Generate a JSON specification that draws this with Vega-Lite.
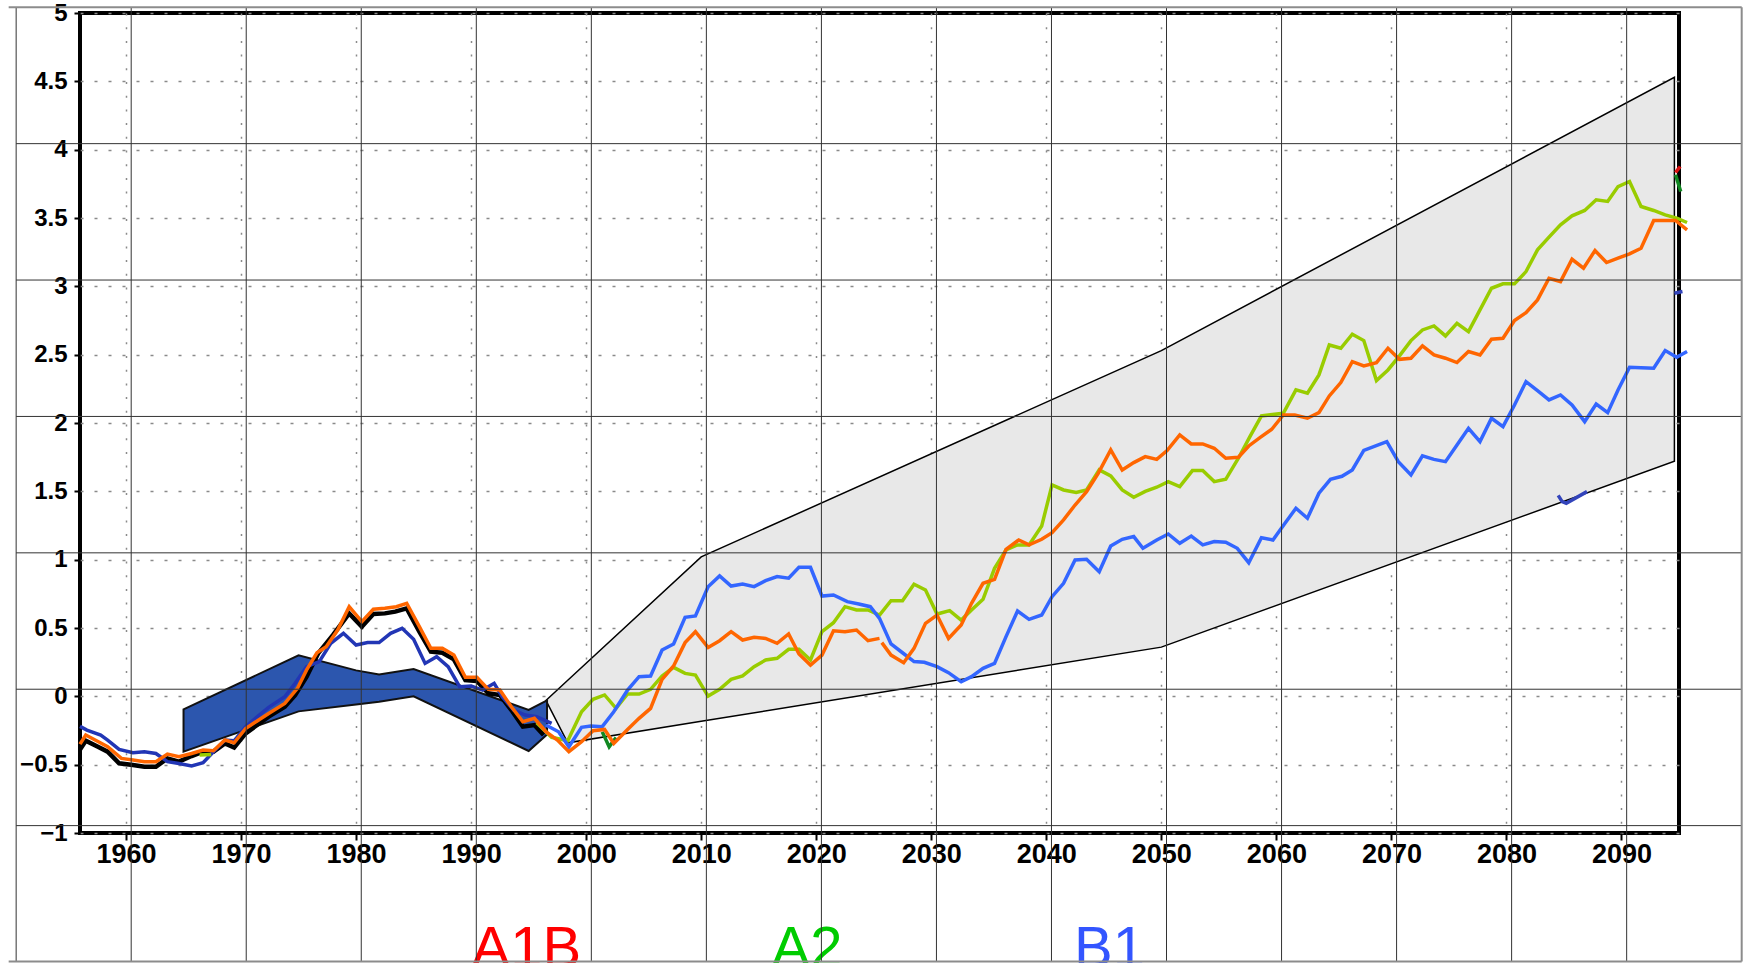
{
  "$schema": "https://vega.github.io/schema/vega-lite/v6.json",
  "width": 1599,
  "height": 820,
  "autosize": {"type": "none"},
  "padding": {"left": 80, "top": 13, "right": 68, "bottom": 130},
  "background": "white",
  "config": {
    "view": {"stroke": "black", "strokeWidth": 4},
    "axis": {"labelFont": "Liberation Sans", "labelFontWeight": "bold", "labelColor": "black"}
  },
  "resolve": {"scale": {"color": "independent"}},
  "datasets": {
    "gray": [
      {"x": 1996.5, "hi": -0.03, "lo": -0.03},
      {"x": 1998.4, "hi": 0.118, "lo": -0.34},
      {"x": 2010.0, "hi": 1.02, "lo": -0.183},
      {"x": 2050.0, "hi": 2.53, "lo": 0.36},
      {"x": 2094.6, "hi": 4.53, "lo": 1.72}
    ],
    "blue": [
      {"x": 1965.0, "hi": -0.095, "lo": -0.405},
      {"x": 1975.0, "hi": 0.30, "lo": -0.11},
      {"x": 1980.0, "hi": 0.19, "lo": -0.06},
      {"x": 1982.0, "hi": 0.16, "lo": -0.04},
      {"x": 1985.0, "hi": 0.20, "lo": 0.0},
      {"x": 1995.0, "hi": -0.10, "lo": -0.40},
      {"x": 1996.6, "hi": -0.03, "lo": -0.28}
    ],
    "obs": [
      {"x": 1956.0, "y": -0.39}, {"x": 1956.5, "y": -0.325}, {"x": 1957.6, "y": -0.37}, {"x": 1958.4, "y": -0.405},
      {"x": 1959.4, "y": -0.49}, {"x": 1960.6, "y": -0.503}, {"x": 1961.6, "y": -0.515}, {"x": 1962.6, "y": -0.515},
      {"x": 1963.6, "y": -0.454}, {"x": 1964.6, "y": -0.478}, {"x": 1965.7, "y": -0.437}, {"x": 1966.7, "y": -0.405},
      {"x": 1967.6, "y": -0.405}, {"x": 1968.6, "y": -0.344}, {"x": 1969.4, "y": -0.374}, {"x": 1970.4, "y": -0.271},
      {"x": 1971.4, "y": -0.21}, {"x": 1972.4, "y": -0.149}, {"x": 1973.8, "y": -0.076}, {"x": 1974.7, "y": 0.009},
      {"x": 1975.7, "y": 0.144}, {"x": 1976.7, "y": 0.314}, {"x": 1978.0, "y": 0.449}, {"x": 1979.4, "y": 0.607},
      {"x": 1980.5, "y": 0.51}, {"x": 1981.5, "y": 0.602}, {"x": 1982.5, "y": 0.607}, {"x": 1983.4, "y": 0.62},
      {"x": 1984.4, "y": 0.644}, {"x": 1985.5, "y": 0.473}, {"x": 1986.5, "y": 0.327}, {"x": 1987.5, "y": 0.319},
      {"x": 1988.5, "y": 0.271}, {"x": 1989.5, "y": 0.119}, {"x": 1990.5, "y": 0.112}, {"x": 1991.5, "y": 0.022},
      {"x": 1992.5, "y": 0.009}, {"x": 1993.5, "y": -0.1}, {"x": 1994.5, "y": -0.222}, {"x": 1995.5, "y": -0.21},
      {"x": 1996.3, "y": -0.283}
    ],
    "hist": [
      {"x": 1956.0, "y": -0.22}, {"x": 1956.6, "y": -0.247}, {"x": 1957.8, "y": -0.283}, {"x": 1958.4, "y": -0.32},
      {"x": 1959.4, "y": -0.388}, {"x": 1960.6, "y": -0.413}, {"x": 1961.6, "y": -0.405}, {"x": 1962.6, "y": -0.418},
      {"x": 1963.6, "y": -0.478}, {"x": 1964.6, "y": -0.491}, {"x": 1965.7, "y": -0.51}, {"x": 1966.7, "y": -0.486},
      {"x": 1967.6, "y": -0.405}, {"x": 1968.6, "y": -0.32}, {"x": 1969.4, "y": -0.325}, {"x": 1970.4, "y": -0.222},
      {"x": 1971.4, "y": -0.15}, {"x": 1972.4, "y": -0.081}, {"x": 1973.8, "y": -0.003}, {"x": 1974.7, "y": 0.095},
      {"x": 1975.7, "y": 0.217}, {"x": 1976.8, "y": 0.254}, {"x": 1977.8, "y": 0.388}, {"x": 1978.9, "y": 0.461},
      {"x": 1980.0, "y": 0.375}, {"x": 1981.0, "y": 0.393}, {"x": 1982.0, "y": 0.393}, {"x": 1983.0, "y": 0.461},
      {"x": 1984.0, "y": 0.498}, {"x": 1985.0, "y": 0.417}, {"x": 1986.0, "y": 0.241}, {"x": 1987.0, "y": 0.29},
      {"x": 1988.0, "y": 0.217}, {"x": 1989.0, "y": 0.071}, {"x": 1990.0, "y": 0.075}, {"x": 1991.0, "y": 0.046},
      {"x": 1992.0, "y": 0.095}, {"x": 1992.7, "y": -0.003}, {"x": 1993.7, "y": -0.1}, {"x": 1994.7, "y": -0.137},
      {"x": 1995.7, "y": -0.149}, {"x": 1997.0, "y": -0.198}
    ],
    "a2": [
      {"seg": "h", "x": 1966.4, "y": -0.43}, {"seg": "h", "x": 1967.4, "y": -0.425},
      {"seg": "p", "x": 1995.7, "y": -0.193}, {"seg": "p", "x": 1997.0, "y": -0.3}, {"seg": "p", "x": 1998.4, "y": -0.325},
      {"seg": "p", "x": 1999.6, "y": -0.113}, {"seg": "p", "x": 2000.6, "y": -0.022}, {"seg": "p", "x": 2001.6, "y": 0.01},
      {"seg": "p", "x": 2002.6, "y": -0.088}, {"seg": "p", "x": 2003.6, "y": 0.017}, {"seg": "p", "x": 2004.6, "y": 0.017},
      {"seg": "p", "x": 2005.6, "y": 0.051}, {"seg": "p", "x": 2006.6, "y": 0.149}, {"seg": "p", "x": 2007.6, "y": 0.212},
      {"seg": "p", "x": 2008.6, "y": 0.168}, {"seg": "p", "x": 2009.5, "y": 0.156}, {"seg": "p", "x": 2010.6, "y": 0.002},
      {"seg": "p", "x": 2011.6, "y": 0.051}, {"seg": "p", "x": 2012.6, "y": 0.124}, {"seg": "p", "x": 2013.6, "y": 0.149},
      {"seg": "p", "x": 2014.6, "y": 0.217}, {"seg": "p", "x": 2015.6, "y": 0.266}, {"seg": "p", "x": 2016.6, "y": 0.278},
      {"seg": "p", "x": 2017.6, "y": 0.344}, {"seg": "p", "x": 2018.5, "y": 0.344}, {"seg": "p", "x": 2019.5, "y": 0.266},
      {"seg": "p", "x": 2020.5, "y": 0.473}, {"seg": "p", "x": 2021.5, "y": 0.539}, {"seg": "p", "x": 2022.5, "y": 0.656},
      {"seg": "p", "x": 2023.5, "y": 0.632}, {"seg": "p", "x": 2024.5, "y": 0.632}, {"seg": "p", "x": 2025.5, "y": 0.595},
      {"seg": "p", "x": 2026.5, "y": 0.7}, {"seg": "p", "x": 2027.5, "y": 0.7}, {"seg": "p", "x": 2028.5, "y": 0.82},
      {"seg": "p", "x": 2029.5, "y": 0.778}, {"seg": "p", "x": 2030.5, "y": 0.602}, {"seg": "p", "x": 2031.6, "y": 0.627},
      {"seg": "p", "x": 2032.6, "y": 0.558}, {"seg": "p", "x": 2033.5, "y": 0.632}, {"seg": "p", "x": 2034.5, "y": 0.71},
      {"seg": "p", "x": 2035.5, "y": 0.937}, {"seg": "p", "x": 2036.5, "y": 1.071}, {"seg": "p", "x": 2037.5, "y": 1.108},
      {"seg": "p", "x": 2038.5, "y": 1.108}, {"seg": "p", "x": 2039.6, "y": 1.247}, {"seg": "p", "x": 2040.5, "y": 1.547},
      {"seg": "p", "x": 2041.5, "y": 1.51}, {"seg": "p", "x": 2042.6, "y": 1.491}, {"seg": "p", "x": 2043.5, "y": 1.51},
      {"seg": "p", "x": 2044.6, "y": 1.657}, {"seg": "p", "x": 2045.6, "y": 1.613}, {"seg": "p", "x": 2046.6, "y": 1.51},
      {"seg": "p", "x": 2047.6, "y": 1.456}, {"seg": "p", "x": 2048.6, "y": 1.5}, {"seg": "p", "x": 2049.6, "y": 1.53},
      {"seg": "p", "x": 2050.6, "y": 1.571}, {"seg": "p", "x": 2051.6, "y": 1.535}, {"seg": "p", "x": 2052.7, "y": 1.652},
      {"seg": "p", "x": 2053.6, "y": 1.652}, {"seg": "p", "x": 2054.6, "y": 1.571}, {"seg": "p", "x": 2055.6, "y": 1.588},
      {"seg": "p", "x": 2056.7, "y": 1.742}, {"seg": "p", "x": 2057.7, "y": 1.9}, {"seg": "p", "x": 2058.7, "y": 2.052},
      {"seg": "p", "x": 2060.6, "y": 2.071}, {"seg": "p", "x": 2061.7, "y": 2.242}, {"seg": "p", "x": 2062.7, "y": 2.218},
      {"seg": "p", "x": 2063.7, "y": 2.352}, {"seg": "p", "x": 2064.6, "y": 2.571}, {"seg": "p", "x": 2065.6, "y": 2.547},
      {"seg": "p", "x": 2066.6, "y": 2.65}, {"seg": "p", "x": 2067.6, "y": 2.603}, {"seg": "p", "x": 2068.7, "y": 2.31},
      {"seg": "p", "x": 2069.7, "y": 2.388}, {"seg": "p", "x": 2070.7, "y": 2.491}, {"seg": "p", "x": 2071.7, "y": 2.603},
      {"seg": "p", "x": 2072.7, "y": 2.681}, {"seg": "p", "x": 2073.7, "y": 2.71}, {"seg": "p", "x": 2074.7, "y": 2.637},
      {"seg": "p", "x": 2075.7, "y": 2.73}, {"seg": "p", "x": 2076.7, "y": 2.669}, {"seg": "p", "x": 2077.7, "y": 2.828},
      {"seg": "p", "x": 2078.7, "y": 2.986}, {"seg": "p", "x": 2079.7, "y": 3.018}, {"seg": "p", "x": 2080.7, "y": 3.018},
      {"seg": "p", "x": 2081.7, "y": 3.108}, {"seg": "p", "x": 2082.7, "y": 3.267}, {"seg": "p", "x": 2083.7, "y": 3.36},
      {"seg": "p", "x": 2084.7, "y": 3.45}, {"seg": "p", "x": 2085.7, "y": 3.516}, {"seg": "p", "x": 2086.8, "y": 3.555},
      {"seg": "p", "x": 2087.8, "y": 3.633}, {"seg": "p", "x": 2088.8, "y": 3.621}, {"seg": "p", "x": 2089.7, "y": 3.73},
      {"seg": "p", "x": 2090.7, "y": 3.767}, {"seg": "p", "x": 2091.7, "y": 3.584}, {"seg": "p", "x": 2092.8, "y": 3.555},
      {"seg": "p", "x": 2093.8, "y": 3.523}, {"seg": "p", "x": 2094.8, "y": 3.499}, {"seg": "p", "x": 2095.7, "y": 3.467}
    ],
    "b1": [
      {"x": 1996.5, "y": -0.21}, {"x": 1997.6, "y": -0.259}, {"x": 1998.5, "y": -0.369}, {"x": 1999.6, "y": -0.227},
      {"x": 2000.4, "y": -0.217}, {"x": 2001.4, "y": -0.222}, {"x": 2002.4, "y": -0.113}, {"x": 2003.6, "y": 0.046},
      {"x": 2004.6, "y": 0.144}, {"x": 2005.6, "y": 0.149}, {"x": 2006.6, "y": 0.339}, {"x": 2007.6, "y": 0.383},
      {"x": 2008.6, "y": 0.578}, {"x": 2009.5, "y": 0.588}, {"x": 2010.6, "y": 0.802}, {"x": 2011.6, "y": 0.881},
      {"x": 2012.6, "y": 0.807}, {"x": 2013.6, "y": 0.822}, {"x": 2014.6, "y": 0.803}, {"x": 2015.6, "y": 0.846},
      {"x": 2016.6, "y": 0.876}, {"x": 2017.6, "y": 0.864}, {"x": 2018.5, "y": 0.944}, {"x": 2019.5, "y": 0.944},
      {"x": 2020.5, "y": 0.734}, {"x": 2021.5, "y": 0.742}, {"x": 2022.7, "y": 0.693}, {"x": 2023.7, "y": 0.676},
      {"x": 2024.7, "y": 0.656}, {"x": 2025.5, "y": 0.571}, {"x": 2026.5, "y": 0.383}, {"x": 2027.5, "y": 0.319},
      {"x": 2028.5, "y": 0.254}, {"x": 2029.4, "y": 0.249}, {"x": 2030.5, "y": 0.217}, {"x": 2031.5, "y": 0.173},
      {"x": 2032.6, "y": 0.107}, {"x": 2033.5, "y": 0.144}, {"x": 2034.5, "y": 0.205}, {"x": 2035.5, "y": 0.241},
      {"x": 2036.5, "y": 0.437}, {"x": 2037.5, "y": 0.624}, {"x": 2038.5, "y": 0.563}, {"x": 2039.6, "y": 0.595},
      {"x": 2040.5, "y": 0.729}, {"x": 2041.5, "y": 0.827}, {"x": 2042.5, "y": 0.998}, {"x": 2043.5, "y": 1.003},
      {"x": 2044.6, "y": 0.912}, {"x": 2045.6, "y": 1.1}, {"x": 2046.6, "y": 1.149}, {"x": 2047.6, "y": 1.169},
      {"x": 2048.4, "y": 1.083}, {"x": 2049.6, "y": 1.144}, {"x": 2050.6, "y": 1.188}, {"x": 2051.6, "y": 1.12},
      {"x": 2052.6, "y": 1.173}, {"x": 2053.6, "y": 1.108}, {"x": 2054.6, "y": 1.132}, {"x": 2055.6, "y": 1.127},
      {"x": 2056.6, "y": 1.083}, {"x": 2057.6, "y": 0.978}, {"x": 2058.7, "y": 1.161}, {"x": 2059.7, "y": 1.144},
      {"x": 2060.7, "y": 1.261}, {"x": 2061.7, "y": 1.376}, {"x": 2062.7, "y": 1.303}, {"x": 2063.7, "y": 1.486},
      {"x": 2064.7, "y": 1.588}, {"x": 2065.7, "y": 1.61}, {"x": 2066.6, "y": 1.657}, {"x": 2067.6, "y": 1.8},
      {"x": 2069.6, "y": 1.864}, {"x": 2070.6, "y": 1.717}, {"x": 2071.7, "y": 1.62}, {"x": 2072.7, "y": 1.759},
      {"x": 2073.7, "y": 1.734}, {"x": 2074.7, "y": 1.717}, {"x": 2075.7, "y": 1.839}, {"x": 2076.7, "y": 1.961},
      {"x": 2077.7, "y": 1.864}, {"x": 2078.7, "y": 2.035}, {"x": 2079.7, "y": 1.973}, {"x": 2080.7, "y": 2.132},
      {"x": 2081.7, "y": 2.303}, {"x": 2082.7, "y": 2.237}, {"x": 2083.7, "y": 2.169}, {"x": 2084.7, "y": 2.205},
      {"x": 2085.7, "y": 2.132}, {"x": 2086.8, "y": 2.01}, {"x": 2087.8, "y": 2.139}, {"x": 2088.8, "y": 2.076},
      {"x": 2089.7, "y": 2.242}, {"x": 2090.7, "y": 2.408}, {"x": 2091.7, "y": 2.405}, {"x": 2092.8, "y": 2.401},
      {"x": 2093.8, "y": 2.53}, {"x": 2094.8, "y": 2.481}, {"x": 2095.7, "y": 2.523}
    ],
    "a1b": [
      {"seg": "a", "x": 1956.0, "y": -0.35}, {"seg": "a", "x": 1956.5, "y": -0.283}, {"seg": "a", "x": 1957.6, "y": -0.332},
      {"seg": "a", "x": 1958.4, "y": -0.369}, {"seg": "a", "x": 1959.6, "y": -0.454}, {"seg": "a", "x": 1960.6, "y": -0.466},
      {"seg": "a", "x": 1961.6, "y": -0.478}, {"seg": "a", "x": 1962.6, "y": -0.478}, {"seg": "a", "x": 1963.6, "y": -0.422},
      {"seg": "a", "x": 1964.6, "y": -0.442}, {"seg": "a", "x": 1965.7, "y": -0.418}, {"seg": "a", "x": 1966.7, "y": -0.393},
      {"seg": "a", "x": 1967.6, "y": -0.398}, {"seg": "a", "x": 1968.6, "y": -0.32}, {"seg": "a", "x": 1969.4, "y": -0.34},
      {"seg": "a", "x": 1970.4, "y": -0.235}, {"seg": "a", "x": 1971.4, "y": -0.18}, {"seg": "a", "x": 1972.4, "y": -0.125},
      {"seg": "a", "x": 1973.8, "y": -0.052}, {"seg": "a", "x": 1974.9, "y": 0.058}, {"seg": "a", "x": 1975.7, "y": 0.193},
      {"seg": "a", "x": 1976.6, "y": 0.319}, {"seg": "a", "x": 1977.4, "y": 0.363}, {"seg": "a", "x": 1978.4, "y": 0.485},
      {"seg": "a", "x": 1979.4, "y": 0.656}, {"seg": "a", "x": 1980.5, "y": 0.546}, {"seg": "a", "x": 1981.5, "y": 0.637},
      {"seg": "a", "x": 1982.5, "y": 0.644}, {"seg": "a", "x": 1983.5, "y": 0.656}, {"seg": "a", "x": 1984.4, "y": 0.681},
      {"seg": "a", "x": 1985.5, "y": 0.51}, {"seg": "a", "x": 1986.5, "y": 0.351}, {"seg": "a", "x": 1987.5, "y": 0.351},
      {"seg": "a", "x": 1988.5, "y": 0.302}, {"seg": "a", "x": 1989.5, "y": 0.139}, {"seg": "a", "x": 1990.5, "y": 0.139},
      {"seg": "a", "x": 1991.5, "y": 0.051}, {"seg": "a", "x": 1992.5, "y": 0.046}, {"seg": "a", "x": 1993.5, "y": -0.076},
      {"seg": "a", "x": 1994.5, "y": -0.186}, {"seg": "a", "x": 1995.5, "y": -0.161}, {"seg": "a", "x": 1996.5, "y": -0.259},
      {"seg": "a", "x": 1997.5, "y": -0.32}, {"seg": "a", "x": 1998.5, "y": -0.405}, {"seg": "a", "x": 1999.6, "y": -0.332},
      {"seg": "a", "x": 2000.6, "y": -0.252}, {"seg": "a", "x": 2001.6, "y": -0.242}, {"seg": "a", "x": 2002.4, "y": -0.345},
      {"seg": "a", "x": 2003.6, "y": -0.242}, {"seg": "a", "x": 2004.6, "y": -0.161}, {"seg": "a", "x": 2005.6, "y": -0.088},
      {"seg": "a", "x": 2006.6, "y": 0.124}, {"seg": "a", "x": 2007.6, "y": 0.222}, {"seg": "a", "x": 2008.6, "y": 0.393},
      {"seg": "a", "x": 2009.5, "y": 0.473}, {"seg": "a", "x": 2010.6, "y": 0.358}, {"seg": "a", "x": 2011.6, "y": 0.407},
      {"seg": "a", "x": 2012.6, "y": 0.473}, {"seg": "a", "x": 2013.6, "y": 0.412}, {"seg": "a", "x": 2014.6, "y": 0.432},
      {"seg": "a", "x": 2015.6, "y": 0.424}, {"seg": "a", "x": 2016.6, "y": 0.388}, {"seg": "a", "x": 2017.6, "y": 0.456},
      {"seg": "a", "x": 2018.5, "y": 0.31}, {"seg": "a", "x": 2019.5, "y": 0.229}, {"seg": "a", "x": 2020.5, "y": 0.302},
      {"seg": "a", "x": 2021.5, "y": 0.48}, {"seg": "a", "x": 2022.5, "y": 0.473}, {"seg": "a", "x": 2023.5, "y": 0.485},
      {"seg": "a", "x": 2024.5, "y": 0.407}, {"seg": "a", "x": 2025.5, "y": 0.424},
      {"seg": "b", "x": 2025.7, "y": 0.393}, {"seg": "b", "x": 2026.5, "y": 0.302}, {"seg": "b", "x": 2027.6, "y": 0.246},
      {"seg": "b", "x": 2028.5, "y": 0.351}, {"seg": "b", "x": 2029.5, "y": 0.534}, {"seg": "b", "x": 2030.5, "y": 0.595},
      {"seg": "b", "x": 2031.5, "y": 0.424}, {"seg": "b", "x": 2032.6, "y": 0.522}, {"seg": "b", "x": 2033.5, "y": 0.681},
      {"seg": "b", "x": 2034.5, "y": 0.827}, {"seg": "b", "x": 2035.5, "y": 0.856}, {"seg": "b", "x": 2036.5, "y": 1.076},
      {"seg": "b", "x": 2037.6, "y": 1.144}, {"seg": "b", "x": 2038.5, "y": 1.108}, {"seg": "b", "x": 2039.6, "y": 1.149},
      {"seg": "b", "x": 2040.5, "y": 1.198}, {"seg": "b", "x": 2041.5, "y": 1.291}, {"seg": "b", "x": 2042.5, "y": 1.4},
      {"seg": "b", "x": 2043.5, "y": 1.498}, {"seg": "b", "x": 2044.5, "y": 1.63}, {"seg": "b", "x": 2045.6, "y": 1.803},
      {"seg": "b", "x": 2046.6, "y": 1.656}, {"seg": "b", "x": 2047.6, "y": 1.71}, {"seg": "b", "x": 2048.6, "y": 1.754},
      {"seg": "b", "x": 2049.6, "y": 1.734}, {"seg": "b", "x": 2050.5, "y": 1.798}, {"seg": "b", "x": 2051.6, "y": 1.913},
      {"seg": "b", "x": 2052.6, "y": 1.847}, {"seg": "b", "x": 2053.6, "y": 1.847}, {"seg": "b", "x": 2054.6, "y": 1.815},
      {"seg": "b", "x": 2055.6, "y": 1.742}, {"seg": "b", "x": 2056.7, "y": 1.749}, {"seg": "b", "x": 2057.6, "y": 1.832},
      {"seg": "b", "x": 2058.6, "y": 1.895}, {"seg": "b", "x": 2059.6, "y": 1.954}, {"seg": "b", "x": 2060.6, "y": 2.059},
      {"seg": "b", "x": 2061.6, "y": 2.059}, {"seg": "b", "x": 2062.7, "y": 2.035}, {"seg": "b", "x": 2063.7, "y": 2.076},
      {"seg": "b", "x": 2064.6, "y": 2.198}, {"seg": "b", "x": 2065.6, "y": 2.296}, {"seg": "b", "x": 2066.6, "y": 2.449},
      {"seg": "b", "x": 2067.6, "y": 2.418}, {"seg": "b", "x": 2068.7, "y": 2.442}, {"seg": "b", "x": 2069.7, "y": 2.547},
      {"seg": "b", "x": 2070.7, "y": 2.466}, {"seg": "b", "x": 2071.7, "y": 2.474}, {"seg": "b", "x": 2072.7, "y": 2.564},
      {"seg": "b", "x": 2073.7, "y": 2.498}, {"seg": "b", "x": 2074.7, "y": 2.474}, {"seg": "b", "x": 2075.7, "y": 2.442},
      {"seg": "b", "x": 2076.7, "y": 2.523}, {"seg": "b", "x": 2077.7, "y": 2.498}, {"seg": "b", "x": 2078.7, "y": 2.613},
      {"seg": "b", "x": 2079.7, "y": 2.62}, {"seg": "b", "x": 2080.7, "y": 2.75}, {"seg": "b", "x": 2081.7, "y": 2.808},
      {"seg": "b", "x": 2082.7, "y": 2.901}, {"seg": "b", "x": 2083.7, "y": 3.059}, {"seg": "b", "x": 2084.7, "y": 3.035},
      {"seg": "b", "x": 2085.7, "y": 3.198}, {"seg": "b", "x": 2086.7, "y": 3.133}, {"seg": "b", "x": 2087.7, "y": 3.262},
      {"seg": "b", "x": 2088.7, "y": 3.174}, {"seg": "b", "x": 2089.7, "y": 3.206}, {"seg": "b", "x": 2090.7, "y": 3.238},
      {"seg": "b", "x": 2091.7, "y": 3.279}, {"seg": "b", "x": 2092.8, "y": 3.482}, {"seg": "b", "x": 2093.8, "y": 3.482},
      {"seg": "b", "x": 2094.7, "y": 3.482}, {"seg": "b", "x": 2095.7, "y": 3.413}
    ],
    "bits": [
      {"s": "red", "seg": "r1", "x": 2094.7, "y": 3.833}, {"s": "red", "seg": "r1", "x": 2095.1, "y": 3.877},
      {"s": "dkgreen", "seg": "g1", "x": 2094.7, "y": 3.816}, {"s": "dkgreen", "seg": "g1", "x": 2095.15, "y": 3.694},
      {"s": "dkgreen", "seg": "g2", "x": 2001.4, "y": -0.26}, {"s": "dkgreen", "seg": "g2", "x": 2002.0, "y": -0.369}, {"s": "dkgreen", "seg": "g2", "x": 2002.6, "y": -0.301},
      {"s": "dkblue", "seg": "b1", "x": 2094.6, "y": 2.95}, {"s": "dkblue", "seg": "b1", "x": 2095.3, "y": 2.962},
      {"s": "dkblue", "seg": "b2", "x": 2084.5, "y": 1.47}, {"s": "dkblue", "seg": "b2", "x": 2084.84, "y": 1.425}, {"s": "dkblue", "seg": "b2", "x": 2085.2, "y": 1.413}, {"s": "dkblue", "seg": "b2", "x": 2087.0, "y": 1.498}
    ],
    "overlay": [
      {"x": 1950.45, "x2": 1950.45, "y": 5.042, "y2": -1.94},
      {"x": 1960.45, "x2": 1960.45, "y": 5.042, "y2": -1.94},
      {"x": 1970.45, "x2": 1970.45, "y": 5.042, "y2": -1.94},
      {"x": 1980.45, "x2": 1980.45, "y": 5.042, "y2": -1.94},
      {"x": 1990.45, "x2": 1990.45, "y": 5.042, "y2": -1.94},
      {"x": 2000.45, "x2": 2000.45, "y": 5.042, "y2": -1.94},
      {"x": 2010.45, "x2": 2010.45, "y": 5.042, "y2": -1.94},
      {"x": 2020.45, "x2": 2020.45, "y": 5.042, "y2": -1.94},
      {"x": 2030.45, "x2": 2030.45, "y": 5.042, "y2": -1.94},
      {"x": 2040.45, "x2": 2040.45, "y": 5.042, "y2": -1.94},
      {"x": 2050.45, "x2": 2050.45, "y": 5.042, "y2": -1.94},
      {"x": 2060.45, "x2": 2060.45, "y": 5.042, "y2": -1.94},
      {"x": 2070.45, "x2": 2070.45, "y": 5.042, "y2": -1.94},
      {"x": 2080.45, "x2": 2080.45, "y": 5.042, "y2": -1.94},
      {"x": 2090.45, "x2": 2090.45, "y": 5.042, "y2": -1.94},
      {"x": 1950.45, "x2": 2100.45, "y": 4.044, "y2": 4.044},
      {"x": 1950.45, "x2": 2100.45, "y": 3.046, "y2": 3.046},
      {"x": 1950.45, "x2": 2100.45, "y": 2.048, "y2": 2.048},
      {"x": 1950.45, "x2": 2100.45, "y": 1.05, "y2": 1.05},
      {"x": 1950.45, "x2": 2100.45, "y": 0.052, "y2": 0.052},
      {"x": 1950.45, "x2": 2100.45, "y": -0.946, "y2": -0.946}
    ],
    "frame": [
      {"x": 1949.8, "x2": 2100.45, "y": 5.042, "y2": 5.042},
      {"x": 1949.8, "x2": 2100.45, "y": -1.94, "y2": -1.94},
      {"x": 2100.45, "x2": 2100.45, "y": 5.042, "y2": -1.94}
    ],
    "labels": [
      {"t": "A1B", "x": 1994.8, "y": -1.98},
      {"t": "A2", "x": 2019.2, "y": -1.98},
      {"t": "B1", "x": 2045.5, "y": -1.98}
    ]
  },
  "layer": [
    {
      "data": {"name": "gray"},
      "mark": {"type": "area", "fill": "#e8e8e8", "stroke": "black", "strokeWidth": 1.5, "clip": false},
      "encoding": {
        "x": {"field": "x", "type": "quantitative", "scale": {"domain": [1956, 2095], "nice": false, "zero": false},
          "axis": {"values": [1960, 1970, 1980, 1990, 2000, 2010, 2020, 2030, 2040, 2050, 2060, 2070, 2080, 2090],
            "format": "d", "title": null, "domain": false, "labelFontSize": 27, "labelPadding": 1,
            "tickSize": 7, "tickWidth": 2, "tickColor": "black", "labelFlush": false,
            "grid": true, "gridColor": "#8a8a8a", "gridDash": [2, 11.7], "gridWidth": 1.5}},
        "y": {"field": "hi", "type": "quantitative", "scale": {"domain": [-1, 5], "nice": false, "zero": false},
          "axis": {"values": [-1, -0.5, 0, 0.5, 1, 1.5, 2, 2.5, 3, 3.5, 4, 4.5, 5], "format": "~g",
            "title": null, "domain": false, "labelFontSize": 24, "labelPadding": 7,
            "tickSize": 6, "tickWidth": 2, "tickColor": "black", "labelFlush": false,
            "grid": true, "gridColor": "#8a8a8a", "gridDash": [3, 11], "gridWidth": 1.5}},
        "y2": {"field": "lo"}
      }
    },
    {
      "data": {"name": "blue"},
      "mark": {"type": "area", "fill": "#2c56ae", "stroke": "#111111", "strokeWidth": 2, "clip": false},
      "encoding": {
        "x": {"field": "x", "type": "quantitative"},
        "y": {"field": "hi", "type": "quantitative"},
        "y2": {"field": "lo"}
      }
    },
    {
      "data": {"name": "obs"},
      "mark": {"type": "line", "color": "black", "strokeWidth": 4.5, "clip": false},
      "encoding": {"x": {"field": "x", "type": "quantitative"}, "y": {"field": "y", "type": "quantitative"}}
    },
    {
      "data": {"name": "hist"},
      "mark": {"type": "line", "color": "#2236b5", "strokeWidth": 3.5, "clip": false},
      "encoding": {"x": {"field": "x", "type": "quantitative"}, "y": {"field": "y", "type": "quantitative"}}
    },
    {
      "data": {"name": "bits"},
      "mark": {"type": "line", "strokeWidth": 3.5, "clip": false},
      "encoding": {
        "x": {"field": "x", "type": "quantitative"},
        "y": {"field": "y", "type": "quantitative"},
        "detail": {"field": "seg"},
        "color": {"field": "s", "type": "nominal", "legend": null,
          "scale": {"domain": ["red", "dkgreen", "dkblue"], "range": ["#dd1111", "#118822", "#3344bb"]}}
      }
    },
    {
      "data": {"name": "a2"},
      "mark": {"type": "line", "color": "#99cc00", "strokeWidth": 3.5, "clip": false},
      "encoding": {"x": {"field": "x", "type": "quantitative"}, "y": {"field": "y", "type": "quantitative"}, "detail": {"field": "seg"}}
    },
    {
      "data": {"name": "b1"},
      "mark": {"type": "line", "color": "#3366ff", "strokeWidth": 3.5, "clip": false},
      "encoding": {"x": {"field": "x", "type": "quantitative"}, "y": {"field": "y", "type": "quantitative"}}
    },
    {
      "data": {"name": "a1b"},
      "mark": {"type": "line", "color": "#ff6600", "strokeWidth": 3.5, "clip": false},
      "encoding": {"x": {"field": "x", "type": "quantitative"}, "y": {"field": "y", "type": "quantitative"}, "detail": {"field": "seg"}}
    },
    {
      "data": {"name": "labels"},
      "mark": {"type": "text", "font": "Liberation Sans", "fontSize": 58, "align": "center", "baseline": "alphabetic", "clip": false},
      "encoding": {
        "x": {"field": "x", "type": "quantitative"},
        "y": {"field": "y", "type": "quantitative"},
        "text": {"field": "t"},
        "color": {"field": "t", "type": "nominal", "legend": null,
          "scale": {"domain": ["A1B", "A2", "B1"], "range": ["#ff0000", "#00cc00", "#3355ff"]}}
      }
    },
    {
      "data": {"name": "overlay"},
      "mark": {"type": "rule", "color": "#333333", "strokeWidth": 1, "clip": false},
      "encoding": {
        "x": {"field": "x", "type": "quantitative"}, "x2": {"field": "x2"},
        "y": {"field": "y", "type": "quantitative"}, "y2": {"field": "y2"}
      }
    },
    {
      "data": {"name": "frame"},
      "mark": {"type": "rule", "color": "#8c8c8c", "strokeWidth": 2, "clip": false},
      "encoding": {
        "x": {"field": "x", "type": "quantitative"}, "x2": {"field": "x2"},
        "y": {"field": "y", "type": "quantitative"}, "y2": {"field": "y2"}
      }
    }
  ]
}
